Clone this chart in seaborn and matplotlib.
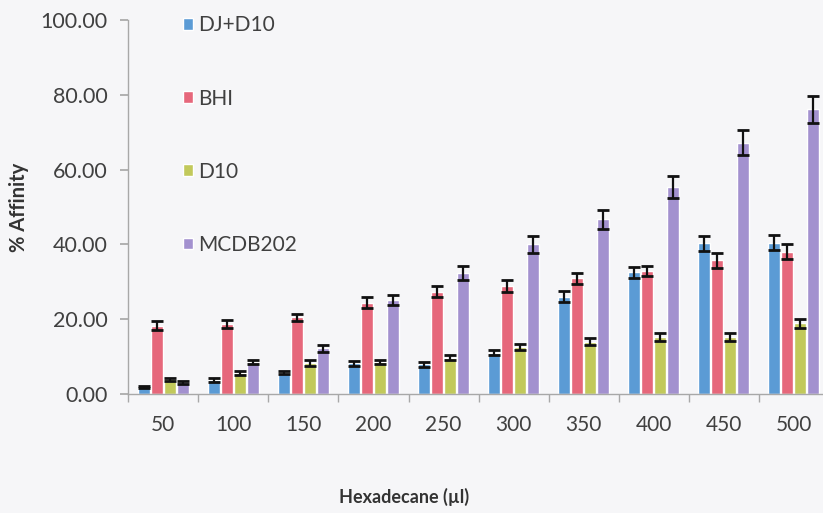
import numpy as np
import pandas as pd
import matplotlib
matplotlib.use("Agg")
import matplotlib.pyplot as plt
import seaborn as sns
from matplotlib.ticker import FormatStrFormatter, FixedLocator

# Datos
volumes = ["50", "100", "150", "200", "250", "300", "350", "400", "450", "500"]
media = ["DJ+D10", "BHI", "D10", "MCDB202"]

dj_d10 = [1.8, 3.7, 5.7, 8.2, 7.9, 11.0, 26.0, 32.5, 40.3, 40.5]
bhi = [18.3, 18.7, 20.5, 24.4, 27.4, 28.9, 30.9, 32.9, 35.8, 38.0]
d10 = [3.9, 5.7, 8.2, 8.5, 9.7, 12.6, 14.0, 15.3, 15.3, 18.9]
mcdb202 = [3.1, 8.6, 12.2, 25.1, 32.3, 40.0, 46.7, 55.4, 67.2, 76.1]

dj_d10_err = [0.3, 0.5, 0.4, 0.6, 0.6, 0.7, 1.5, 1.5, 2.0, 2.1]
bhi_err = [1.1, 1.1, 1.0, 1.4, 1.5, 1.5, 1.4, 1.4, 2.0, 2.0]
d10_err = [0.3, 0.5, 0.8, 0.6, 0.6, 0.8, 0.9, 1.0, 1.0, 1.2]
mcdb202_err = [0.4, 0.5, 1.0, 1.4, 1.8, 2.2, 2.5, 3.0, 3.4, 3.6]

colors = ["#5b9bd5", "#e6677b", "#c2c95b", "#a391cf"]

# Tabla larga para seaborn
series = [dj_d10, bhi, d10, mcdb202]
errors = [dj_d10_err, bhi_err, d10_err, mcdb202_err]
df = pd.DataFrame({
    "Hexadecane": volumes * len(media),
    "Medium": [m for m in media for _ in volumes],
    "Affinity": [v for s in series for v in s],
})

sns.set_theme(style="white")
plt.rcParams["font.family"] = ["Lato", "DejaVu Sans"]

bg = "#f6f6f8"
fig = plt.figure(figsize=(8.23, 5.13), dpi=100, facecolor=bg)
ax = fig.add_axes([0.156, 0.232, 0.851, 0.729], facecolor=bg)

sns.barplot(data=df, x="Hexadecane", y="Affinity", hue="Medium",
            hue_order=media, order=volumes, palette=colors,
            width=0.75, gap=0.08, errorbar=None, saturation=1, ax=ax)

# Barras de error
for cont, err in zip(ax.containers, errors):
    xs = [p.get_x() + p.get_width() / 2 for p in cont.patches]
    ys = [p.get_height() for p in cont.patches]
    ax.errorbar(xs, ys, yerr=err, fmt="none", ecolor="#111111",
                elinewidth=1.6, capsize=4.5, capthick=2)

ax.set_ylim(0, 100)
ax.set_xlim(-0.5, len(volumes) - 0.5)
ax.yaxis.set_major_locator(FixedLocator([0, 20, 40, 60, 80, 100]))
ax.yaxis.set_major_formatter(FormatStrFormatter("%.2f"))

# Ejes
axis_gray = "#a8a8a8"
for s in ["top", "right"]:
    ax.spines[s].set_visible(False)
for s in ["left", "bottom"]:
    ax.spines[s].set_color(axis_gray)
    ax.spines[s].set_linewidth(1.0)

fs = 15.5
ax.tick_params(axis="y", left=True, length=6, color=axis_gray, pad=9,
               labelsize=fs, labelcolor="#404040")
ax.tick_params(axis="x", bottom=False, length=0, pad=15,
               labelsize=fs - 0.5, labelcolor="#404040")
ax.set_xticks(np.arange(len(volumes) + 1) - 0.5, minor=True)
ax.tick_params(axis="x", which="minor", bottom=True, length=6, color=axis_gray)

ax.set_xlabel("Hexadecane (µl)", fontsize=13, fontweight="bold",
              color="#333333")
ax.xaxis.set_label_coords(0.393, -0.252)
ax.set_ylabel("% Affinity", fontsize=14.5, fontweight="bold",
              color="#333333", labelpad=8)

# Leyenda
leg = ax.legend(loc="upper left", bbox_to_anchor=(0.063, 1.04), frameon=False,
                fontsize=15, handlelength=0.5, handleheight=0.5,
                handletextpad=0.25, labelspacing=2.55, borderpad=0)
for t in leg.get_texts():
    t.set_color("#404040")

plt.savefig("out.png", dpi=100, facecolor=bg)
plt.close()
